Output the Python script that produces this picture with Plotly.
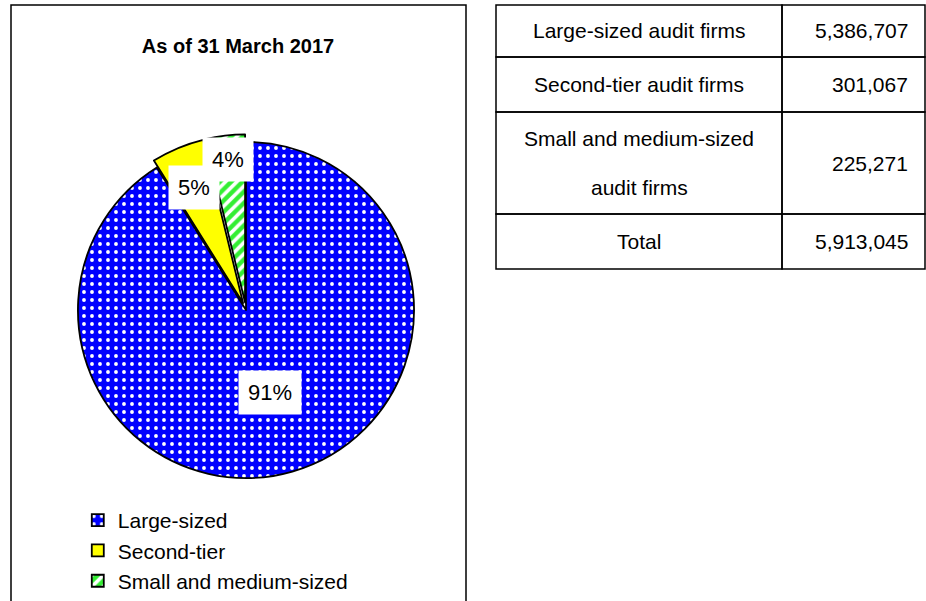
import math
import plotly.graph_objects as go

# ---------------- data ----------------
categories = ["Large-sized", "Second-tier", "Small and medium-sized"]
firm_values = [5386707, 301067, 225271]
pct_labels = ["91%", "5%", "4%"]
table_names = ["Large-sized audit firms", "Second-tier audit firms",
               "Small and medium-sized<br>audit firms", "Total"]
table_values = ["5,386,707", "301,067", "225,271", "5,913,045"]
title_text = "As of 31 March 2017"

# ---------------- style / layout ----------------
W, H = 926, 601
FONT = "Arial, Liberation Sans, sans-serif"
slice_colors = ["#0000FF", "#FFFF00", "#33EE33"]
pattern_shapes = [".", "", "/"]
pattern_size = [8, 8, 8]
pattern_solidity = [0.18, 0.3, 0.45]
pulls = [0, 0.045, 0.045]
dom_x = [0.0760, 0.4553]
dom_y = [0.1920, 0.7764]
label_radius = [0.51, 0.79, 0.90]

# table geometry (px)
tbl_x0, tbl_y0 = 496, 5
col_widths = [286, 143]
row_heights = [52, 55, 102, 55]
line_gap = 50
val_pad = 15

fig = go.Figure()

fig.add_trace(go.Pie(
    labels=categories, values=firm_values, sort=False,
    direction="clockwise", rotation=0, pull=pulls,
    textinfo="none", hoverinfo="label+percent",
    marker=dict(
        colors=slice_colors,
        line=dict(color="black", width=1.8),
        pattern=dict(shape=pattern_shapes, fgcolor=["white"] * 3,
                     bgcolor=slice_colors, size=pattern_size,
                     solidity=pattern_solidity, fillmode="replace"),
    ),
    domain=dict(x=dom_x, y=dom_y),
))

# percentage labels in white boxes, placed from the slice angles
box_w = (dom_x[1] - dom_x[0]) * W
box_h = (dom_y[1] - dom_y[0]) * H
r = min(box_w, box_h) / 2 / (1 + max(pulls))
cx = W * (dom_x[0] + dom_x[1]) / 2
cy = H * (1 - (dom_y[0] + dom_y[1]) / 2)
total = sum(firm_values)
cum = 0
for v, lab, f in zip(firm_values, pct_labels, label_radius):
    mid = (cum + v / 2) / total * 2 * math.pi
    cum += v
    px = cx + f * r * math.sin(mid)
    py = cy - f * r * math.cos(mid)
    fig.add_annotation(x=px / W, y=1 - py / H, xref="paper", yref="paper",
                       text=lab, showarrow=False, bgcolor="white",
                       borderpad=9, font=dict(family=FONT, size=22, color="black"),
                       xanchor="center", yanchor="middle")

# table drawn as bordered cells with text
xs = [tbl_x0, tbl_x0 + col_widths[0], tbl_x0 + col_widths[0] + col_widths[1]]
y = tbl_y0
for name, val, h in zip(table_names, table_values, row_heights):
    for c in range(2):
        fig.add_shape(type="rect", xref="paper", yref="paper",
                      x0=xs[c] / W, x1=xs[c + 1] / W,
                      y0=1 - y / H, y1=1 - (y + h) / H,
                      line=dict(color="black", width=1.5),
                      fillcolor="rgba(0,0,0,0)")
    yc = y + h / 2
    lines = name.split("<br>")
    n = len(lines)
    for i, ln in enumerate(lines):
        ly = yc + (i - (n - 1) / 2) * line_gap
        fig.add_annotation(x=(xs[0] + xs[1]) / 2 / W, y=1 - ly / H,
                           xref="paper", yref="paper", text=ln, showarrow=False,
                           xanchor="center", yanchor="middle",
                           font=dict(family=FONT, size=21, color="black"))
    fig.add_annotation(x=(xs[2] - val_pad) / W, y=1 - yc / H,
                       xref="paper", yref="paper", text=val, showarrow=False,
                       xanchor="right", yanchor="middle",
                       font=dict(family=FONT, size=21, color="black"))
    y += h

# outer frame of the chart panel
fig.add_shape(type="rect", xref="paper", yref="paper",
              x0=11 / W, x1=466 / W, y0=1 - 5 / H, y1=-0.05,
              line=dict(color="black", width=1.5), fillcolor="rgba(0,0,0,0)")

fig.update_layout(
    width=W, height=H,
    margin=dict(l=0, r=0, t=0, b=0),
    paper_bgcolor="white", plot_bgcolor="white",
    font=dict(family=FONT, color="black"),
    title=dict(text="<b>" + title_text + "</b>", x=238 / W, y=1 - 46 / H,
               xanchor="center", yanchor="middle",
               font=dict(family=FONT, size=20, color="black")),
    legend=dict(x=0.084, y=1 - 500 / H, xanchor="left", yanchor="top",
                font=dict(family=FONT, size=21, color="black"),
                bgcolor="rgba(0,0,0,0)", tracegroupgap=0),
)

fig.write_html("out.html", config={"displayModeBar": False},
               post_script="document.body.style.margin='0';")
